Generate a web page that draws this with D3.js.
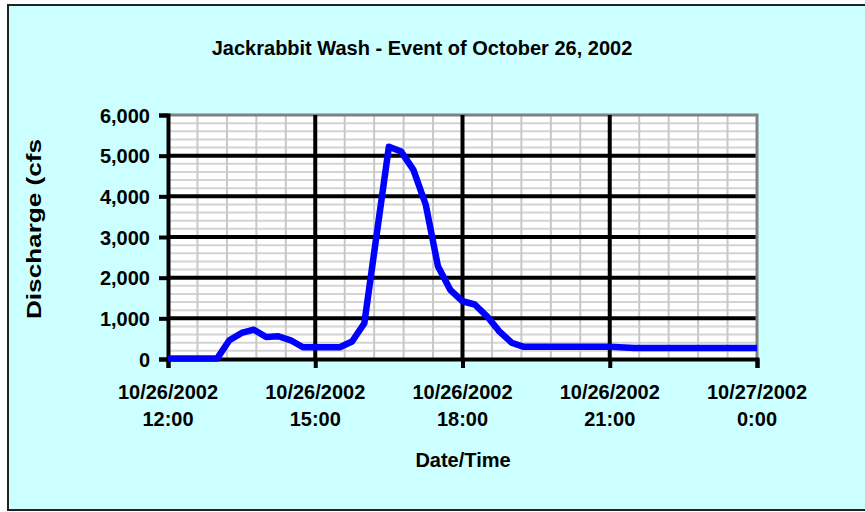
<!DOCTYPE html>
<html>
<head>
<meta charset="utf-8">
<script src="https://cdn.jsdelivr.net/npm/d3@7"></script>
<style>
  body { margin: 0; background: #fff; }
  svg text { font-family: "Liberation Sans", Arial, sans-serif; font-weight: bold; fill: #000; }
</style>
</head>
<body>
<div id="chart"></div>
<script>
// Readings for the event (time, discharge in cfs)
const times = [
  '10/26/2002 12:00', '10/26/2002 13:00', '10/26/2002 13:15', '10/26/2002 13:30',
  '10/26/2002 13:45', '10/26/2002 14:00', '10/26/2002 14:15', '10/26/2002 14:30',
  '10/26/2002 14:45', '10/26/2002 15:30', '10/26/2002 15:45', '10/26/2002 16:00',
  '10/26/2002 16:30', '10/26/2002 16:45', '10/26/2002 17:00', '10/26/2002 17:15',
  '10/26/2002 17:30', '10/26/2002 17:45', '10/26/2002 18:00', '10/26/2002 18:15',
  '10/26/2002 18:30', '10/26/2002 18:45', '10/26/2002 19:00', '10/26/2002 19:15',
  '10/26/2002 21:00', '10/26/2002 21:30', '10/27/2002 0:00'
];
const discharge = [
  10, 10, 460, 640,
  720, 540, 560, 460,
  290, 290, 430, 880,
  5220, 5100, 4650, 3800,
  2280, 1700, 1420, 1340,
  1050, 680, 400, 300,
  300, 270, 270
];
const timeDomain = ['10/26/2002 12:00', '10/27/2002 0:00'];
const yMax = 6000;
const yMajorStep = 1000;
const yMinorStep = 200;
const xMinorMinutes = 36;

const title = 'Jackrabbit Wash - Event of October 26, 2002';
const yTitle = 'Discharge (cfs';
const xTitle = 'Date/Time';

/* Plot area in page pixels. */
const plot = { left: 168, top: 115, right: 757, bottom: 359 };
const W = 865, H = 512;

const parse = d3.timeParse('%m/%d/%Y %H:%M');
const data = times.map((t, i) => ({ t: parse(t), v: discharge[i] }));

const svg = d3.select('#chart').append('svg')
  .attr('width', W)
  .attr('height', H);

// chart background + border
svg.append('rect')
  .attr('x', 8).attr('y', 5)
  .attr('width', W + 10).attr('height', 505)
  .attr('fill', '#ccffff')
  .attr('stroke', '#222')
  .attr('stroke-width', 2);

const x = d3.scaleTime()
  .domain(timeDomain.map(parse))
  .range([plot.left, plot.right]);

const y = d3.scaleLinear()
  .domain([0, yMax])
  .range([plot.bottom, plot.top]);

svg.append('rect')
  .attr('x', plot.left).attr('y', plot.top)
  .attr('width', plot.right - plot.left)
  .attr('height', plot.bottom - plot.top)
  .attr('fill', '#fff');

// minor gridlines
const start = x.domain()[0];
const totalMin = (x.domain()[1] - start) / 60000;
const xMinor = d3.range(0, totalMin + 1, xMinorMinutes).map((m) => d3.timeMinute.offset(start, m));
const yMinor = d3.range(0, yMax + 1, yMinorStep);

const grid = svg.append('g').attr('class', 'grid');
grid.selectAll('.ymin')
  .data(yMinor)
  .enter().append('line')
  .attr('x1', plot.left).attr('x2', plot.right)
  .attr('y1', (d) => y(d)).attr('y2', (d) => y(d))
  .attr('stroke', '#d4d4d4')
  .attr('stroke-width', 2);
grid.selectAll('.xmin')
  .data(xMinor)
  .enter().append('line')
  .attr('y1', plot.top).attr('y2', plot.bottom)
  .attr('x1', (d) => x(d)).attr('x2', (d) => x(d))
  .attr('stroke', '#c8c8c8')
  .attr('stroke-width', 2);

// plot area border (top / right)
svg.append('path')
  .attr('d', `M${plot.left},${plot.top}H${plot.right}V${plot.bottom}`)
  .attr('fill', 'none')
  .attr('stroke', '#808080')
  .attr('stroke-width', 3);

// major gridlines
const yMajor = d3.range(yMajorStep, yMax, yMajorStep);
const xMajor = x.ticks(d3.timeHour.every(3));
grid.selectAll('.ymaj')
  .data(yMajor)
  .enter().append('line')
  .attr('x1', plot.left).attr('x2', plot.right)
  .attr('y1', (d) => y(d)).attr('y2', (d) => y(d))
  .attr('stroke', '#000')
  .attr('stroke-width', 4);
svg.append('g').selectAll('line')
  .data(xMajor.slice(1, -1))
  .enter().append('line')
  .attr('y1', plot.top).attr('y2', plot.bottom)
  .attr('x1', (d) => x(d)).attr('x2', (d) => x(d))
  .attr('stroke', '#000')
  .attr('stroke-width', 4);

// axes
const yAxis = d3.axisLeft(y)
  .tickValues(d3.range(0, yMax + 1, yMajorStep))
  .tickFormat(d3.format(','))
  .tickSize(9)
  .tickPadding(9);
const gY = svg.append('g')
  .attr('transform', `translate(${plot.left},0)`)
  .call(yAxis);

const xAxis = d3.axisBottom(x)
  .tickValues(xMajor)
  .tickFormat('')
  .tickSize(9);
const gX = svg.append('g')
  .attr('transform', `translate(0,${plot.bottom})`)
  .call(xAxis);

[gX, gY].forEach((g) => {
  g.select('.domain').attr('stroke', '#000').attr('stroke-width', 4);
  g.selectAll('.tick line').attr('stroke', '#000').attr('stroke-width', 4);
  g.selectAll('text').style('font-size', '20px');
});
gY.selectAll('.tick text').attr('dy', '0.36em');

// two-line date labels
const fDate = d3.timeFormat('%m/%d/%Y');
const fTime = d3.timeFormat('%-H:%M');
const xl = svg.append('g').selectAll('text')
  .data(xMajor)
  .enter().append('text')
  .attr('x', (d) => x(d))
  .attr('text-anchor', 'middle')
  .style('font-size', '20px');
xl.append('tspan').attr('x', (d) => x(d)).attr('y', 399).text(fDate);
xl.append('tspan').attr('x', (d) => x(d)).attr('y', 426).text(fTime);

// discharge line
const line = d3.line()
  .x((d) => x(d.t))
  .y((d) => y(d.v));
svg.append('path')
  .datum(data)
  .attr('d', line)
  .attr('fill', 'none')
  .attr('stroke', '#0000ff')
  .attr('stroke-width', 6.5)
  .attr('stroke-linejoin', 'round');

// titles
svg.append('text')
  .attr('x', 422).attr('y', 55)
  .attr('text-anchor', 'middle')
  .style('font-size', '20px')
  .text(title);
svg.append('text')
  .attr('x', 463).attr('y', 467)
  .attr('text-anchor', 'middle')
  .style('font-size', '20px')
  .text(xTitle);
// the rotated title is drawn stretched in the original
svg.append('text')
  .attr('transform', 'translate(41,229) rotate(-90)')
  .attr('text-anchor', 'middle')
  .attr('textLength', 180)
  .attr('lengthAdjust', 'spacingAndGlyphs')
  .style('font-size', '20px')
  .text(yTitle);
</script>
</body>
</html>
